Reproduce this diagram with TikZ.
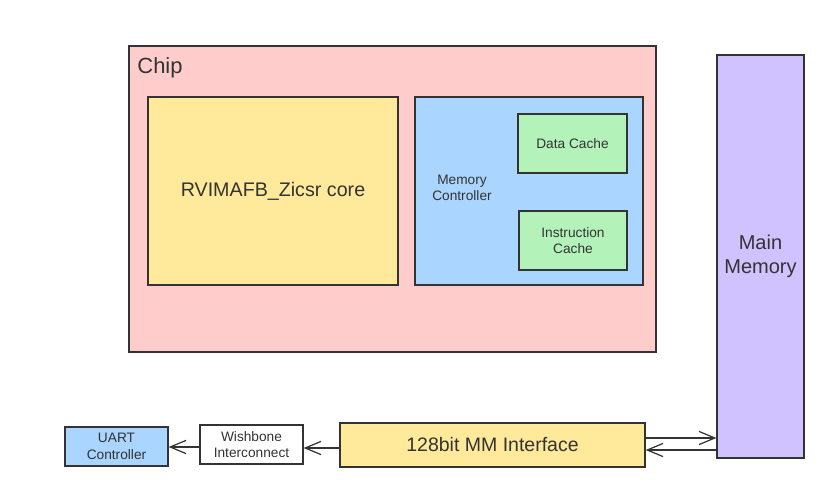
\documentclass[tikz,border=0pt]{standalone}
\usepackage{fontspec}
\setmainfont{Liberation Sans}
\usetikzlibrary{arrows.meta}

\definecolor{chippink}{HTML}{FFCCCC}
\definecolor{coreyellow}{HTML}{FFE99A}
\definecolor{ctrlblue}{HTML}{A9D5FF}
\definecolor{cachegreen}{HTML}{B3F2B9}
\definecolor{mempurple}{HTML}{CFC2FF}
\definecolor{edge}{HTML}{333333}

\begin{document}
\begin{tikzpicture}[x=0.02cm, y=-0.02cm,
    blk/.style={draw=edge, line width=0.7pt, inner sep=0pt, text=edge, align=center},
    arr/.style={draw=edge, line width=0.7pt, -{Straight Barb[length=9pt, width=7.5pt, line width=0.7pt]}}]
    \useasboundingbox (0,0) rectangle (837,494);

    \node (chip) [blk, fill=chippink, minimum width=527*0.02cm, minimum height=306*0.02cm] at (392.5,199) {};
    \node (chiplabel) [text=edge, font=\fontsize{12.5}{14}\selectfont] at (160,68) {Chip};

    \node (core) [blk, fill=coreyellow, minimum width=250*0.02cm, minimum height=188*0.02cm, font=\fontsize{11.2}{13}\selectfont] at (273,191) {RVIMAFB\_Zicsr core};

    \node (memctrl) [blk, fill=ctrlblue, minimum width=228*0.02cm, minimum height=188*0.02cm] at (529,191) {};
    \node (memlabel) [text=edge, align=center, font=\fontsize{7.8}{9.4}\selectfont] at (462,188) {Memory\\Controller};
    \node (dcache) [blk, fill=cachegreen, minimum width=109*0.02cm, minimum height=59*0.02cm, font=\fontsize{7.8}{9.4}\selectfont] at (572.5,143.5) {Data Cache};
    \node (icache) [blk, fill=cachegreen, minimum width=108*0.02cm, minimum height=59*0.02cm, font=\fontsize{7.8}{9.4}\selectfont] at (573,240.5) {Instruction\\Cache};

    \node (mainmem) [blk, fill=mempurple, minimum width=87*0.02cm, minimum height=403*0.02cm, font=\fontsize{11.4}{13.5}\selectfont] at (760.5,256.5) {Main\\Memory};

    \node (mmif) [blk, fill=coreyellow, minimum width=305*0.02cm, minimum height=44*0.02cm, font=\fontsize{11.1}{13}\selectfont] at (492.5,445) {128bit MM Interface};
    \node (wb) [blk, fill=white, minimum width=103*0.02cm, minimum height=39*0.02cm, font=\fontsize{7.8}{9.4}\selectfont] at (251.5,444.5) {Wishbone\\Interconnect};
    \node (uart) [blk, fill=ctrlblue, minimum width=103*0.02cm, minimum height=39*0.02cm, font=\fontsize{7.8}{9.4}\selectfont] at (116.5,446.5) {UART\\Controller};

    \draw [arr] (mmif.east |- 0,438) -- (mainmem.west |- 0,438);
    \draw [arr] (mainmem.west |- 0,450) -- (mmif.east |- 0,450);
    \draw [arr] (mmif.west |- 0,448) -- (wb.east |- 0,448);
    \draw [arr] (wb.west |- 0,447) -- (uart.east |- 0,447);
\end{tikzpicture}
\end{document}
